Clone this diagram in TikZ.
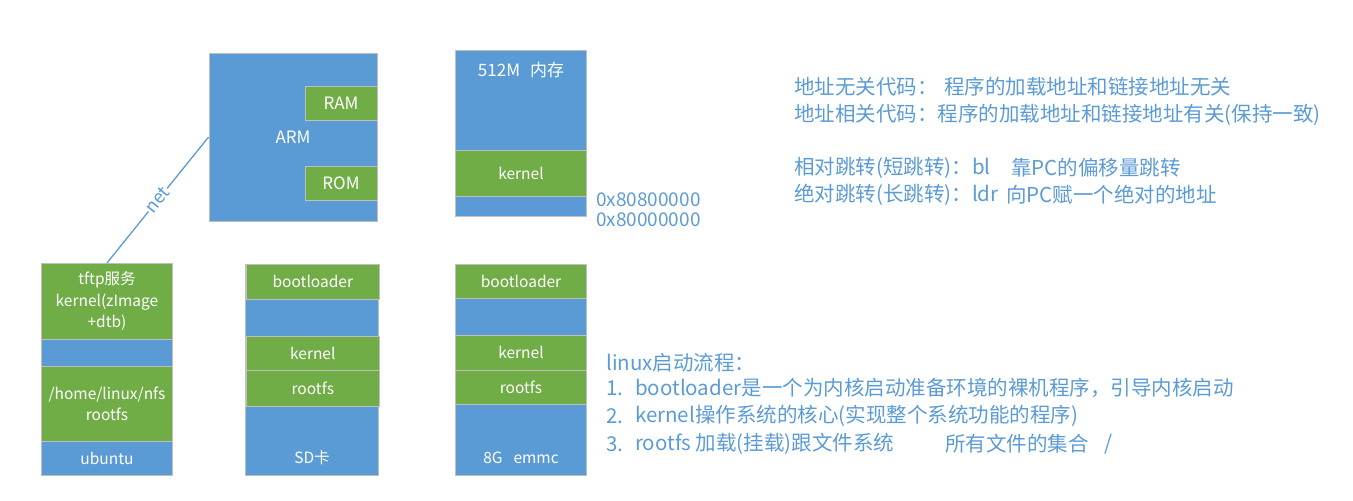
\documentclass[tikz,border=0pt]{standalone}
\usepackage{fontspec}
\setmainfont{Noto Sans CJK SC}
\usetikzlibrary{positioning}

\definecolor{boxblue}{HTML}{5B9BD5}
\definecolor{boxgreen}{HTML}{70AD47}
\definecolor{edgegray}{HTML}{BFBFBF}

\tikzset{
  blk/.style={draw=edgegray, line width=0.8pt, fill=boxblue, text=white, inner sep=0pt,
              align=center, font=\fontsize{15.5}{21.5}\selectfont},
  gblk/.style={blk, fill=boxgreen},
  big/.style={font=\fontsize{17}{21.5}\selectfont},
  lbl/.style={text=white, inner sep=0pt, font=\fontsize{15.5}{21.5}\selectfont},
  note/.style={text=boxblue, anchor=west, inner sep=0pt, font=\fontsize{20.5}{26}\selectfont}
}

\begin{document}
\begin{tikzpicture}[x=1pt,y=-1pt]
\useasboundingbox (0,0) rectangle (1353,501);

% ARM with RAM / ROM
\node[blk, big, minimum width=168pt, minimum height=168pt] (arm) at (293,137) {ARM};
\node[gblk, big, minimum width=72pt, minimum height=33.5pt] (ram) at (341,103.5) {RAM};
\node[gblk, big, minimum width=72pt, minimum height=33.5pt] (rom) at (341,183.5) {ROM};

% 512M memory
\node[blk, minimum width=131pt, minimum height=166pt] (mem) at (521,133) {};
\node[gblk, minimum width=131pt, minimum height=46pt] (memk) at (521,173) {kernel};
\node[lbl, big] (memlbl) at (521,70) {512M\hspace{10pt}内存};
\node[note, font=\fontsize{19}{24}\selectfont] (addrh) at (596,199.3) {0x80800000};
\node[note, font=\fontsize{19}{24}\selectfont] (addrl) at (596,220) {0x80000000};

% ubuntu
\node[gblk, minimum width=131pt, minimum height=76pt] (tftp) at (107,301.3) {tftp服务\\kernel(zImage\\+dtb)};
\node[blk, minimum width=131pt, minimum height=27.4pt] (ugap) at (107,353) {};
\node[gblk, minimum width=131pt, minimum height=74.3pt] (nfs) at (107,403.9) {/home/linux/nfs\\rootfs};
\node[blk, minimum width=131pt, minimum height=34pt] (ubuntu) at (107,458) {ubuntu};

\draw[boxblue, line width=1.3pt] (arm.west) -- node[sloped, fill=white, inner sep=1pt,
    text=boxblue, font=\fontsize{18}{22}\selectfont] (netlbl) {net} (tftp.north);

% SD card
\node[blk, minimum width=132.4pt, minimum height=211pt] (sd) at (311.8,369.5) {};
\node[gblk, minimum width=132.4pt, minimum height=35pt] (sdboot) at (312.8,281.8) {bootloader};
\node[gblk, minimum width=132.4pt, minimum height=34.7pt] (sdkern) at (312.8,353.3) {kernel};
\node[gblk, minimum width=132.4pt, minimum height=35.3pt] (sdroot) at (312.8,388.3) {rootfs};
\node[lbl] (sdlbl) at (312,458) {SD卡};

% emmc
\node[blk, minimum width=131pt, minimum height=211pt] (emmc) at (521,369.5) {};
\node[gblk, minimum width=131pt, minimum height=34.3pt] (emboot) at (521,281.2) {bootloader};
\node[gblk, minimum width=131pt, minimum height=35pt] (emkern) at (521,352.5) {kernel};
\node[gblk, minimum width=131pt, minimum height=34.3pt] (emroot) at (521,387.2) {rootfs};
\node[lbl] (emlbl) at (521,458) {8G\hspace{11pt}emmc};

% notes on code and jumps
\node[note] (pic1) at (794,87) {地址无关代码：};
\node[note] (pic2) at (944,87) {程序的加载地址和链接地址无关};
\node[note] (pdc) at (794,115) {地址相关代码：程序的加载地址和链接地址有关(保持一致)};
\node[note] (bl1) at (794,168) {相对跳转(短跳转)：bl};
\node[note] (bl2) at (1011,168) {靠PC的偏移量跳转};
\node[note] (ldr1) at (794,195) {绝对跳转(长跳转)：ldr};
\node[note] (ldr2) at (1006,195) {向PC赋一个绝对的地址};

% boot flow
\node[note] (flow) at (606,363) {linux启动流程：};
\foreach \i/\t in {1/bootloader是一个为内核启动准备环境的裸机程序，引导内核启动,
                   2/kernel操作系统的核心(实现整个系统功能的程序),
                   3/rootfs 加载(挂载)跟文件系统}
{
  \node[note] (num\i) at (606,360+28*\i) {\i.};
  \node[note] (step\i) at (635,360+28*\i) {\t};
}
\node[note] (allf) at (945,444) {所有文件的集合};
\node[note] (slash) at (1104,444) {/};

\end{tikzpicture}
\end{document}
